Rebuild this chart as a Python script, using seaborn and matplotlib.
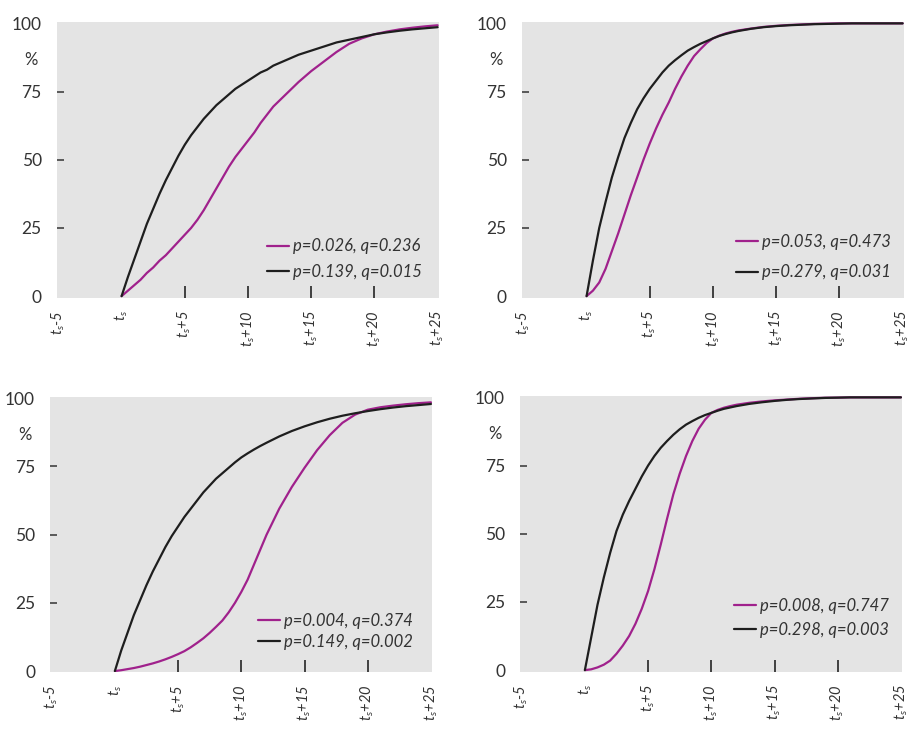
import matplotlib
matplotlib.use("Agg")
import matplotlib.pyplot as plt
import matplotlib.transforms as mtransforms
import seaborn as sns
import pandas as pd

# ---------------- data ----------------
t_grid = [0, 0.5, 1, 1.5, 2, 2.5, 3, 3.5, 4, 4.5, 5, 5.5, 6, 6.5, 7, 7.5, 8, 8.5,
          9, 9.5, 10, 10.5, 11, 11.5, 12, 13, 14, 15, 16, 17, 18, 19, 20, 21, 22,
          23, 24, 25]

p1_purple = [0, 2, 4, 6, 8.5, 10.5, 13, 15, 17.5, 20, 22.5, 25, 28, 31.5, 35.5, 39.5,
             43.5, 47.5, 51, 54, 57, 60, 63.5, 66.5, 69.5,
             74, 78.5, 82.5, 86, 89.5, 92.5, 94.5, 96, 97, 97.8, 98.4, 98.9, 99.3]
p1_black = [0, 7, 13.5, 20, 26.5, 32, 37.5, 42.5, 47, 51.5, 55.5, 59, 62, 65, 67.5, 70,
            72, 74, 76, 77.5, 79, 80.5, 82, 83, 84.5,
            86.5, 88.5, 90, 91.5, 93, 94, 95, 96, 96.7, 97.3, 97.8, 98.2, 98.6]

p2_purple = [0, 2, 5, 10, 16.5, 23, 30, 37, 43.5, 50, 56, 61.5, 66.5, 71, 76, 80.5,
             84.5, 88, 90.5, 92.8, 94.5, 95.5, 96.3, 96.9, 97.4,
             98.1, 98.7, 99.1, 99.4, 99.6, 99.8, 99.9, 100, 100, 100, 100, 100, 100]
p2_black = [0, 13, 25, 34.5, 43.5, 51, 58, 63.5, 68.5, 72.5, 76, 79, 82, 84.5, 86.5,
            88.3, 90, 91.3, 92.5, 93.5, 94.5, 95.4, 96.1, 96.7, 97.2,
            98, 98.6, 99, 99.3, 99.5, 99.7, 99.8, 99.9, 100, 100, 100, 100, 100]

p3_purple = [0, 0.3, 0.7, 1.1, 1.6, 2.2, 2.8, 3.5, 4.3, 5.2, 6.2, 7.3, 8.7, 10.3, 12,
             14, 16.2, 18.5, 21.5, 25, 29, 33.5, 39, 44.5, 50,
             59.5, 67.5, 74.5, 81, 86.5, 91, 94, 95.8, 96.7, 97.3, 97.8, 98.2, 98.5]
p3_black = [0, 7.5, 14, 20.5, 26, 31.5, 36.5, 41, 45.5, 49.5, 53, 56.5, 59.5, 62.5,
            65.5, 68, 70.5, 72.5, 74.5, 76.5, 78.3, 79.8, 81.2, 82.5, 83.7,
            86, 88, 89.7, 91.2, 92.5, 93.6, 94.5, 95.3, 96, 96.6, 97.1, 97.5, 97.9]

p4_purple = [0, 0.3, 1, 2, 3.5, 6, 9, 12.5, 17, 22.5, 29, 37, 46, 55.5, 64.5, 72, 78.5,
             84, 88.5, 91.8, 94.3, 95.4, 96.2, 96.8, 97.3,
             98, 98.5, 98.9, 99.2, 99.5, 99.7, 99.85, 99.9, 100, 100, 100, 100, 100]
p4_black = [0, 12, 24, 34, 43, 51, 57, 62, 66.5, 71, 75, 78.5, 81.5, 84, 86.3, 88.3,
            90, 91.3, 92.5, 93.5, 94.3, 95.1, 95.8, 96.3, 96.8,
            97.6, 98.2, 98.7, 99.1, 99.4, 99.6, 99.8, 99.9, 100, 100, 100, 100, 100]

legend_purple = ["p=0.026, q=0.236", "p=0.053, q=0.473", "p=0.004, q=0.374", "p=0.008, q=0.747"]
legend_black = ["p=0.139, q=0.015", "p=0.279, q=0.031", "p=0.149, q=0.002", "p=0.298, q=0.003"]

x_ticks = [-5, 0, 5, 10, 15, 20, 25]
x_labels = [r"$t_s$-5", r"$t_s$", r"$t_s$+5", r"$t_s$+10", r"$t_s$+15", r"$t_s$+20", r"$t_s$+25"]
y_ticks = [0, 25, 50, 75, 100]
y_labels = ["0", "25", "50", "75", "100"]

purples = [p1_purple, p2_purple, p3_purple, p4_purple]
blacks = [p1_black, p2_black, p3_black, p4_black]

# ---------------- style ----------------
sns.set_theme(style="white")
FONT = ["Lato", "DejaVu Sans"]
plt.rcParams["font.family"] = FONT
plt.rcParams["mathtext.fontset"] = "custom"
plt.rcParams["mathtext.it"] = "Lato:italic"
plt.rcParams["mathtext.rm"] = "Lato"

PURPLE = "#a0218c"
BLACK = "#1e1e1e"
BG = "#e4e4e4"
TXT = "#333333"

fig = plt.figure(figsize=(9.07, 7.29), dpi=100)
W, H = 907.0, 729.0
# (left px, top px) for each panel; width/height in px
panel_px = [(57.1, 22.0), (522.1, 22.0), (50.4, 396.9), (520.4, 396.0)]
pw, ph = 381.8, 275.5

# legend placement: (x start frac, y mid frac, labelspacing)
leg_pos = [(0.55, 0.14, 0.55), (0.56, 0.146, 0.85), (0.545, 0.15, 0.30), (0.56, 0.195, 0.45)]

for i, (lx, ty) in enumerate(panel_px):
    ax = fig.add_axes([lx / W, 1 - (ty + ph) / H, pw / W, ph / H])
    ax.set_facecolor(BG)
    for s in ax.spines.values():
        s.set_visible(False)

    df = pd.DataFrame({
        "t": t_grid * 2,
        "value": purples[i] + blacks[i],
        "series": [legend_purple[i]] * len(t_grid) + [legend_black[i]] * len(t_grid),
    })
    sns.lineplot(data=df, x="t", y="value", hue="series",
                 palette={legend_purple[i]: PURPLE, legend_black[i]: BLACK},
                 linewidth=1.6, ax=ax, legend=False, sort=False, estimator=None)

    ax.set_xlim(-5.1, 25.1)
    ax.set_ylim(-0.5, 100.5)
    ax.set_xlabel("")
    ax.set_ylabel("")

    ax.set_xticks(x_ticks)
    ax.set_xticklabels(x_labels, rotation=90, fontsize=10.5, color=TXT,
                       fontstyle="italic", va="top", ha="center")
    ax.set_yticks(y_ticks)
    ax.set_yticklabels(y_labels, fontsize=12.5, color=TXT)
    ax.tick_params(axis="x", direction="in", length=9, width=1.3, color=TXT, pad=9,
                   bottom=True)
    ax.tick_params(axis="y", direction="in", length=5, width=1.1, color=TXT, pad=11,
                   left=True)
    for tk, val in zip(ax.xaxis.get_major_ticks(), x_ticks):
        if val in (-5, 0, 25):
            tk.tick1line.set_visible(False)
    for tk, val in zip(ax.yaxis.get_major_ticks(), y_ticks):
        if val in (0, 100):
            tk.tick1line.set_visible(False)

    trans = mtransforms.blended_transform_factory(ax.transAxes, ax.transData)
    ax.text(-0.068, 86.5, "%", transform=trans, fontsize=12, color=TXT,
            ha="center", va="center")

    lines = ax.get_lines()
    handles = [lines[0], lines[1]]
    xs, ym, lsp = leg_pos[i]
    leg = ax.legend(handles, [legend_purple[i], legend_black[i]],
                    loc="center left", bbox_to_anchor=(xs, ym), frameon=False,
                    borderpad=0, borderaxespad=0, handlelength=1.3,
                    handletextpad=0.25, labelspacing=lsp,
                    prop={"family": FONT, "style": "italic", "size": 12})
    for txt in leg.get_texts():
        txt.set_color(TXT)

fig.savefig("out.png", dpi=100, facecolor="white")
